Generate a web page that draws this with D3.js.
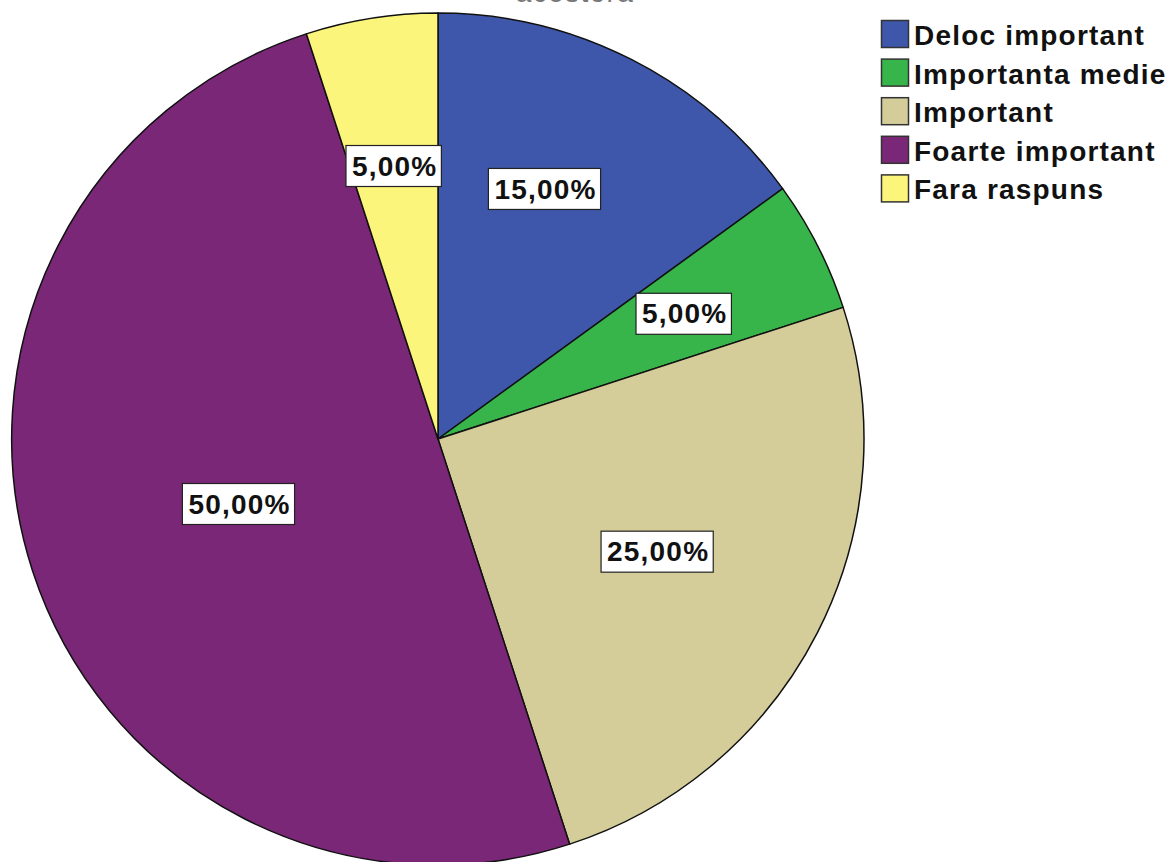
<!DOCTYPE html>
<html><head><meta charset="utf-8">
<script src="https://cdn.jsdelivr.net/npm/d3@7"></script>
<style>html,body{margin:0;padding:0;background:#fff;}svg{display:block;}</style>
</head><body>
<svg id="c" width="1172" height="862"></svg>
<script>
const categories = ["Deloc important","Importanta medie","Important","Foarte important","Fara raspuns"];
const values = [15, 5, 25, 50, 5];
const labels = ["15,00%","5,00%","25,00%","50,00%","5,00%"];
const colors = ["#3e57ab","#37b54a","#d4cd9a","#7b2777","#fbf67b"];
const labelRadius = [0.64, 0.65, 0.58, 0.49, 0.65];
const labelFrac = [0.43, 0.5, 0.5, 0.5, 0.5];
const titleText = "acestora";

const svg = d3.select("#c");
const cx = 438, cy = 439, r = 426;

svg.append("text").attr("x", 575).attr("y", 2).attr("text-anchor","middle")
  .attr("font-family","Liberation Sans, Arial").attr("font-size",28).attr("letter-spacing",1.4)
  .attr("fill","#777").text(titleText);

const pie = d3.pie().sort(null).value(d => d)(values);
const arc = d3.arc().innerRadius(0).outerRadius(r);
const g = svg.append("g").attr("transform",`translate(${cx},${cy})`);
g.selectAll("path").data(pie).join("path")
  .attr("d", arc).attr("fill",(d,i)=>colors[i])
  .attr("stroke","#111").attr("stroke-width",1.5).attr("stroke-linejoin","round");

pie.forEach((d,i)=>{
  const a = d.startAngle + (d.endAngle - d.startAngle)*labelFrac[i];
  const rr = labelRadius[i]*r;
  const x = rr*Math.sin(a), y = -rr*Math.cos(a);
  const lg = g.append("g").attr("transform",`translate(${x},${y})`);
  const t = lg.append("text").attr("text-anchor","middle").attr("dy","0.36em")
    .attr("font-family","Liberation Sans, Arial").attr("font-size",28).attr("font-weight","bold")
    .attr("letter-spacing",1.2).attr("fill","#111").text(labels[i]);
  const bb = t.node().getBBox();
  lg.insert("rect","text").attr("x",bb.x-6).attr("y",-20).attr("width",bb.width+10).attr("height",41)
    .attr("fill","#fff").attr("stroke","#222").attr("stroke-width",1.2);
});

const leg = svg.append("g").attr("transform","translate(881,20)");
categories.forEach((c,i)=>{
  const row = leg.append("g").attr("transform",`translate(0,${i*38.6})`);
  row.append("rect").attr("x",0.5).attr("y",0.5).attr("width",27).attr("height",27)
    .attr("fill",colors[i]).attr("stroke","#333").attr("stroke-width",1.5);
  row.append("text").attr("x",33).attr("y",15).attr("dy","0.36em")
    .attr("font-family","Liberation Sans, Arial").attr("font-size",28).attr("font-weight","bold")
    .attr("letter-spacing",1.2).attr("fill","#111").text(c);
});
</script>
</body></html>
